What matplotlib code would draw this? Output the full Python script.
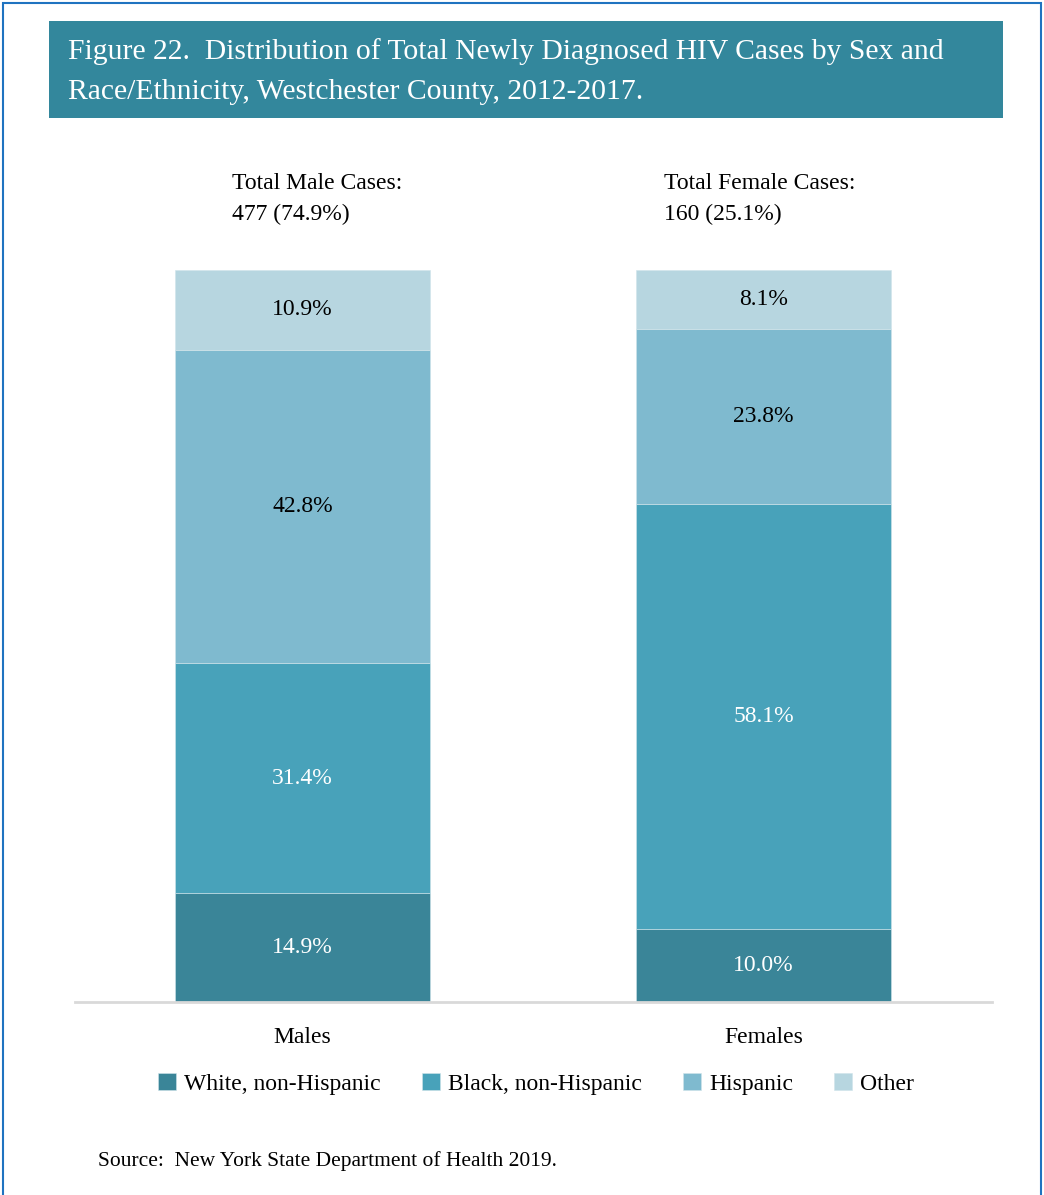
import numpy as np
import matplotlib.pyplot as plt
from matplotlib.patches import Rectangle

plt.rcParams['font.family'] = ['Liberation Serif', 'DejaVu Serif']

# Dados do gráfico
sexos = ['Males', 'Females']
grupos = ['White, non-Hispanic', 'Black, non-Hispanic', 'Hispanic', 'Other']
white = [14.9, 10.0]
black = [31.4, 58.1]
hispanic = [42.8, 23.8]
other = [10.9, 8.1]
totais_txt = ['Total Male Cases:\n477 (74.9%)', 'Total Female Cases:\n160 (25.1%)']

cores = ['#3a8598', '#48a2ba', '#7fbacf', '#b7d6e0']
cores_txt = ['white', 'white', 'black', 'black']

W, H = 1044, 1195
fig = plt.figure(figsize=(W / 100, H / 100), dpi=100)

def px(x, y):
    return x / W, 1 - y / H

# Moldura azul
fig.patches.append(Rectangle(px(3, 1220), (1041 - 3) / W, (1220 - 3) / H,
                             transform=fig.transFigure, fill=False,
                             edgecolor='#1f73c0', linewidth=1.5))

# Caixa do título
fig.patches.append(Rectangle(px(49, 118), (1003 - 49) / W, (118 - 21) / H,
                             transform=fig.transFigure, facecolor='#33879c',
                             edgecolor='none'))
fig.text(*px(68, 52), 'Figure 22.  Distribution of Total Newly Diagnosed HIV Cases by Sex and',
         color='white', fontsize=21.3, va='center', ha='left')
fig.text(*px(68, 92), 'Race/Ethnicity, Westchester County, 2012-2017.',
         color='white', fontsize=21.3, va='center', ha='left')

# Eixos
ax = fig.add_axes([75 / W, 1 - 1002 / H, (992 - 75) / W, (1002 - 270) / H])
x = np.arange(len(sexos))
largura = 0.553
base = np.zeros(len(sexos))
series = [white, black, hispanic, other]
for nome, vals, cor, ctxt in zip(grupos, series, cores, cores_txt):
    vals = np.array(vals)
    ax.bar(x, vals, largura, bottom=base, color=cor, label=nome,
           edgecolor='#d0e4ea', linewidth=0.4)
    for xi, b, v in zip(x, base, vals):
        ax.text(xi, b + v / 2, f'{v:.1f}%', ha='center', va='center',
                color=ctxt, fontsize=17)
    base += vals

ax.set_xlim(-0.4935, 1.4957)
ax.set_ylim(0, 100)
for s in ['top', 'right', 'left']:
    ax.spines[s].set_visible(False)
ax.spines['bottom'].set_color('#d9d9d9')
ax.spines['bottom'].set_linewidth(2)
ax.set_yticks([])
ax.set_xticks(x)
ax.set_xticklabels(sexos, fontsize=17)
ax.tick_params(axis='x', length=0, pad=18)

# Totais por sexo
for xt, txt in zip([232, 664], totais_txt):
    fig.text(*px(xt, 199), txt, fontsize=17, ha='left', va='center',
             linespacing=1.6)

# Legenda
fig.legend(loc='center', bbox_to_anchor=(536 / W, 1 - 1084 / H), ncol=4,
           frameon=False, fontsize=17, handlelength=0.75, handleheight=0.75,
           handletextpad=0.35, columnspacing=1.75)

fig.text(*px(98, 1161), 'Source:  New York State Department of Health 2019.',
         fontsize=15.5, ha='left', va='center')

fig.savefig('out.png', dpi=100)
